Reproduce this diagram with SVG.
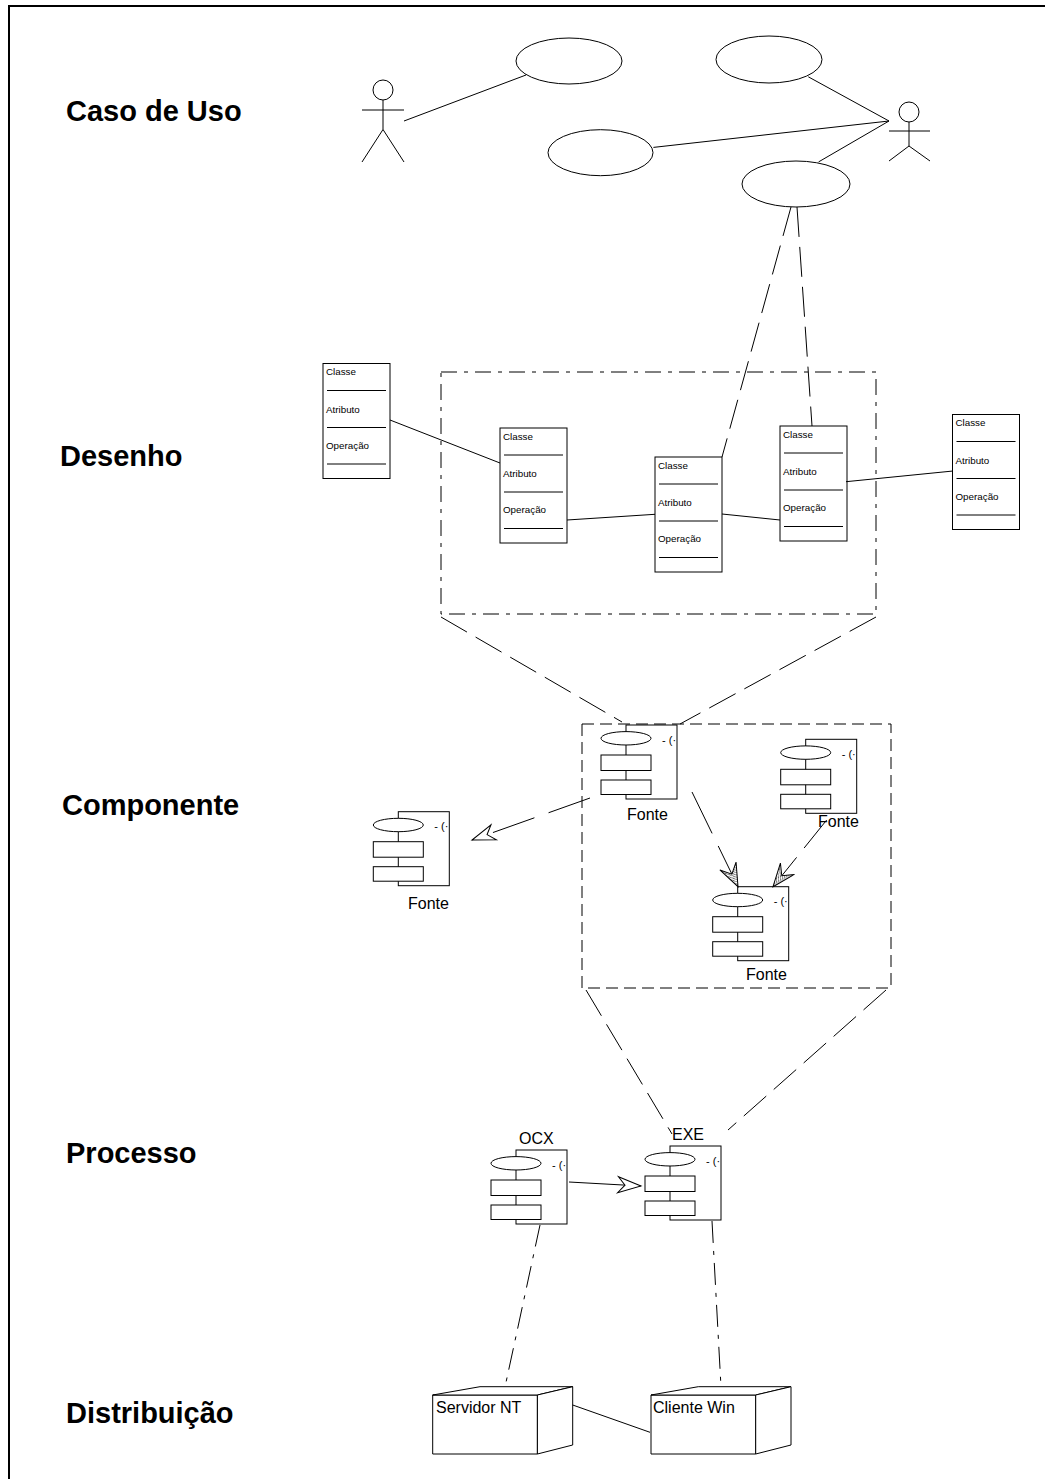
<svg xmlns="http://www.w3.org/2000/svg" width="1045" height="1479" viewBox="0 0 1045 1479">
<style>
  .ln{fill:none;stroke:#000;stroke-width:1}
  .box{fill:#fff;stroke:#000;stroke-width:1}
  .frame{fill:none;stroke:#000;stroke-width:2}
  .sec{font-family:"Liberation Sans",Arial,sans-serif;font-weight:bold;font-size:29px;fill:#000}
  .lbl{font-family:"Liberation Sans",Arial,sans-serif;font-size:16px;fill:#000}
  .cls{font-family:"Liberation Sans",Arial,sans-serif;font-size:9.8px;fill:#000}
  .sym{font-family:"Liberation Sans",Arial,sans-serif;font-size:11px;fill:#000}
  .dashA{stroke-dasharray:16 7 4 7}
  .dashB{stroke-dasharray:12 6}
  .dashC{stroke-dasharray:30 10}
  .dashD{stroke-dasharray:22 8 4 8}
</style>
<defs>
  <!-- class box: name / attributes / operations -->
  <g id="classBox">
    <rect class="box" x="0" y="0" width="67" height="115"/>
    <path class="ln" d="M4,27H63M4,64H63M4,100.5H63"/>
    <text class="cls" x="3" y="11.5">Classe</text>
    <text class="cls" x="3" y="49">Atributo</text>
    <text class="cls" x="3" y="85">Operação</text>
  </g>
  <!-- component icon, origin at top-left of the body -->
  <g id="component">
    <rect class="box" x="0" y="0" width="51" height="74"/>
    <ellipse class="box" cx="0" cy="13.3" rx="25" ry="6.7"/>
    <rect class="box" x="-25" y="30" width="50" height="15.5"/>
    <rect class="box" x="-25" y="55" width="50" height="14.5"/>
    <text class="sym" x="36" y="18.5">- (·</text>
  </g>
  <!-- deployment node cube, origin at front face top-left -->
  <g id="cube">
    <path class="box" d="M0,0H104.7V59H0Z"/>
    <path class="box" d="M0,0L47.3,-8.3H140L104.7,0Z"/>
    <path class="box" d="M104.7,0L140,-8.3V50L104.7,59Z"/>
  </g>
  <pattern id="hatch" patternUnits="userSpaceOnUse" width="3" height="3">
    <rect width="3" height="3" fill="#fff"/>
    <path d="M0,3L3,0" stroke="#000" stroke-width="0.7"/>
  </pattern>
  <marker id="openDart" markerUnits="userSpaceOnUse" orient="auto" markerWidth="30" markerHeight="24" viewBox="-27 -12 30 24" refX="0" refY="0" overflow="visible">
    <path d="M0,0L-23,-8L-16,0L-23,8Z" fill="#fff" stroke="#000" stroke-width="1" stroke-dasharray="none"/>
  </marker>
  <marker id="hatchDart" markerUnits="userSpaceOnUse" orient="auto" markerWidth="30" markerHeight="24" viewBox="-27 -12 30 24" refX="0" refY="0" overflow="visible">
    <path d="M0,0L-23,-9L-14,0L-23,9Z" fill="url(#hatch)" stroke="#000" stroke-width="1" stroke-dasharray="none"/>
  </marker>
</defs>

<rect width="1045" height="1479" fill="#fff"/>

<!-- page frame -->
<path class="frame" d="M8,6H1045M9,5V1479"/>

<!-- section titles -->
<g id="titles">
  <text class="sec" x="66" y="121">Caso de Uso</text>
  <text class="sec" x="60" y="466">Desenho</text>
  <text class="sec" x="62" y="815">Componente</text>
  <text class="sec" x="66" y="1163">Processo</text>
  <text class="sec" x="66" y="1423">Distribuição</text>
</g>

<!-- use case view -->
<g id="actor-left" class="ln">
  <circle cx="383" cy="90" r="10"/>
  <path d="M383,100V129.5M362,110H404M362,162L383,129.5L404,162"/>
</g>
<g id="actor-right" class="ln">
  <circle cx="909" cy="112" r="10"/>
  <path d="M909,122V146M889,131H930M889,161L909,146L930,161"/>
</g>
<g id="usecase-1"><ellipse class="box" cx="569" cy="61" rx="53" ry="23"/></g>
<g id="usecase-2"><ellipse class="box" cx="769" cy="59.5" rx="53" ry="23.5"/></g>
<g id="usecase-3"><ellipse class="box" cx="600.5" cy="152.7" rx="52.5" ry="23"/></g>
<g id="usecase-4"><ellipse class="box" cx="796" cy="184" rx="54" ry="23"/></g>

<!-- design view -->
<g id="design-frame"><rect class="ln dashA" x="441" y="372" width="435" height="242"/></g>
<g id="class-a"><use href="#classBox" x="323" y="363.5"/></g>
<g id="class-b"><use href="#classBox" x="500" y="428"/></g>
<g id="class-c"><use href="#classBox" x="655" y="457"/></g>
<g id="class-d"><use href="#classBox" x="780" y="426"/></g>
<g id="class-e"><use href="#classBox" x="952.5" y="414.5"/></g>

<!-- component view -->
<g id="component-frame"><rect class="ln dashB" x="582" y="724" width="309" height="264"/></g>
<g id="fonte-1"><use href="#component" x="626" y="725"/><text class="lbl" x="627" y="820">Fonte</text></g>
<g id="fonte-2"><use href="#component" x="805.7" y="739.3"/><text class="lbl" x="818" y="827">Fonte</text></g>
<g id="fonte-3"><use href="#component" x="737.7" y="886.7"/><text class="lbl" x="746" y="980">Fonte</text></g>
<g id="fonte-4"><use href="#component" x="398.3" y="811.7"/><text class="lbl" x="408" y="909">Fonte</text></g>

<!-- process view -->
<g id="ocx"><use href="#component" x="516" y="1150"/><text class="lbl" x="519" y="1144">OCX</text></g>
<g id="exe"><use href="#component" x="670" y="1146"/><text class="lbl" x="672" y="1140">EXE</text></g>

<!-- deployment view -->
<g id="servidor-nt"><use href="#cube" x="432.7" y="1395"/><text class="lbl" x="436" y="1413">Servidor NT</text></g>
<g id="cliente-win"><use href="#cube" x="651" y="1395"/><text class="lbl" x="653" y="1413">Cliente Win</text></g>

<!-- connectors -->
<g id="connectors" class="ln">
  <!-- actor associations -->
  <path d="M404,121L526,75"/>
  <path d="M808.3,76.8L889,121"/>
  <path d="M653.4,147.4L889,121"/>
  <path d="M818.6,161.9L889,121"/>
  <!-- use case realised by classes -->
  <path class="dashC" d="M791,207L722,457"/>
  <path class="dashC" d="M797,207L812,426"/>
  <!-- class associations -->
  <path d="M390,420L500,463"/>
  <path d="M567,520L655,514.3"/>
  <path d="M722,514L780,520"/>
  <path d="M846,481.7L953,471"/>
  <!-- design to components -->
  <path class="dashC" d="M441,617L622,722"/>
  <path class="dashC" d="M876,617L680,724"/>
  <!-- component dependencies -->
  <path style="stroke-dasharray:44 15" d="M590,798L472,840" marker-end="url(#openDart)"/>
  <path style="stroke-dasharray:46 14" d="M692,792L738,886.7" marker-end="url(#hatchDart)"/>
  <path style="stroke-dasharray:36 12" d="M826.7,820L773,886.7" marker-end="url(#hatchDart)"/>
  <!-- components to process -->
  <path class="dashC" d="M586,990L672,1134"/>
  <path class="dashC" d="M886,990L728,1130"/>
  <!-- process dependency -->
  <path d="M569,1182L641,1186" marker-end="url(#openDart)"/>
  <!-- process to nodes -->
  <path class="dashD" d="M540,1225L505,1387"/>
  <path class="dashD" d="M712,1221L721,1387"/>
  <!-- node link -->
  <path d="M572.7,1405L650,1432.3"/>
</g>
</svg>
